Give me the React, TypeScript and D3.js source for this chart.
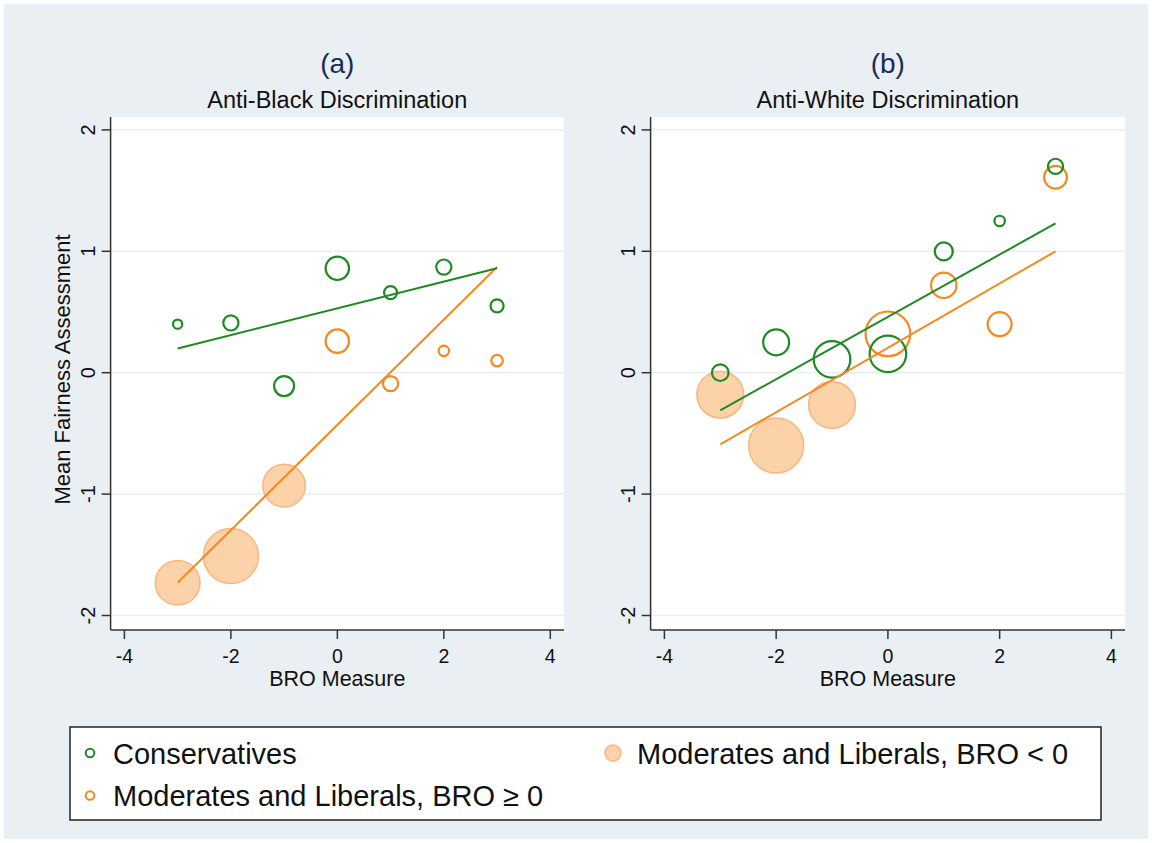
import React from "react";
import * as d3 from "d3";

// ---------- data ----------
const broAll = [-3, -2, -1, 0, 1, 2, 3];
const broPos = [0, 1, 2, 3];
const broNeg = [-3, -2, -1];
const xTicks = [-4, -2, 0, 2, 4];
const yTicks = [-2, -1, 0, 1, 2];

// Panel (a): Anti-Black Discrimination
const aConsY = [0.4, 0.41, -0.11, 0.86, 0.66, 0.87, 0.55];
const aConsN = [2.8, 7.6, 13.2, 18.1, 5.6, 7.6, 5.6];
const aPosY = [0.26, -0.09, 0.18, 0.1];
const aPosN = [18.1, 7.6, 3.6, 4.4];
const aNegY = [-1.73, -1.51, -0.93];
const aNegN = [66, 100, 60];
const aConsFit = [0.2, 0.86];
const aModFit = [-1.73, 0.87];

// Panel (b): Anti-White Discrimination
const bConsY = [0.0, 0.25, 0.11, 0.155, 1.0, 1.25, 1.7];
const bConsN = [9.1, 22.3, 44.3, 44.3, 10.7, 3.6, 7.6];
const bPosY = [0.32, 0.72, 0.4, 1.61];
const bPosN = [66, 21.3, 19, 17.2];
const bNegY = [-0.18, -0.6, -0.265];
const bNegN = [72.4, 100, 72.4];
const bConsFit = [-0.31, 1.23];
const bModFit = [-0.59, 1.0];
const fitX = [-3, 3];

const legendLabels = [
  "Conservatives",
  "Moderates and Liberals, BRO \u2265 0",
  "Moderates and Liberals, BRO < 0",
];

// ---------- style ----------
const GREEN = "#1f8a24";
const ORANGE = "#f3891f";
const PEACH = "#fcd2a9";
const PEACH_STROKE = "#f7b67f";
const BG = "#e9eff2";
const GRID = "#eaf0f2";
const FONT = "'Liberation Sans', Arial, Helvetica, sans-serif";

const rScale = d3.scaleSqrt().domain([0, 100]).range([0, 27.5]);

type PanelProps = {
  left: number;
  right: number;
  xr0: number;
  xr1: number;
  letter: string;
  title: string;
  consY: number[];
  consN: number[];
  posY: number[];
  posN: number[];
  negY: number[];
  negN: number[];
  consFit: number[];
  modFit: number[];
  showYTitle: boolean;
};

const TOP = 117;
const BOTTOM = 630;

function Panel(p: PanelProps) {
  const x = d3.scaleLinear().domain([-4, 4]).range([p.xr0, p.xr1]);
  const y = d3.scaleLinear().domain([-2, 2]).range([615.5, 129.9]);
  const line = d3
    .line<[number, number]>()
    .x((d) => x(d[0]))
    .y((d) => y(d[1]));
  const cx = (p.left + p.right) / 2;
  const consFitPts: [number, number][] = fitX.map((v, i) => [v, p.consFit[i]]);
  const modFitPts: [number, number][] = fitX.map((v, i) => [v, p.modFit[i]]);
  const fmt = (t: number) => d3.format("d")(t).replace("\u2212", "-");
  return (
    <g>
      <rect x={p.left} y={TOP} width={p.right - p.left} height={BOTTOM - TOP} fill="#ffffff" />
      {yTicks.map((t) => (
        <line key={"g" + t} x1={p.left} x2={p.right} y1={y(t)} y2={y(t)} stroke={GRID} strokeWidth={1.6} />
      ))}
      {/* filled: moderates BRO < 0 */}
      {broNeg.map((v, i) => (
        <circle key={"n" + i} cx={x(v)} cy={y(p.negY[i])} r={rScale(p.negN[i])} fill={PEACH} stroke={PEACH_STROKE} strokeWidth={1.5} />
      ))}
      {/* hollow: moderates BRO >= 0 */}
      {broPos.map((v, i) => (
        <circle key={"p" + i} cx={x(v)} cy={y(p.posY[i])} r={rScale(p.posN[i])} fill="none" stroke={ORANGE} strokeWidth={2.2} />
      ))}
      {/* hollow: conservatives */}
      {broAll.map((v, i) => (
        <circle key={"c" + i} cx={x(v)} cy={y(p.consY[i])} r={rScale(p.consN[i])} fill="none" stroke={GREEN} strokeWidth={2.2} />
      ))}
      <path d={line(modFitPts) || ""} fill="none" stroke={ORANGE} strokeWidth={2} />
      <path d={line(consFitPts) || ""} fill="none" stroke={GREEN} strokeWidth={2} />
      {/* axes */}
      <line x1={p.left} x2={p.left} y1={TOP} y2={BOTTOM} stroke="#333" strokeWidth={1.5} />
      <line x1={p.left} x2={p.right} y1={BOTTOM} y2={BOTTOM} stroke="#333" strokeWidth={1.5} />
      {yTicks.map((t) => (
        <g key={"yt" + t}>
          <line x1={p.left - 9} x2={p.left} y1={y(t)} y2={y(t)} stroke="#333" strokeWidth={1.5} />
          <text
            transform={`translate(${p.left - 15.5},${y(t)}) rotate(-90)`}
            textAnchor="middle"
            fontSize={20}
            fontFamily={FONT}
            fill="#111"
          >
            {fmt(t)}
          </text>
        </g>
      ))}
      {xTicks.map((t) => (
        <g key={"xt" + t}>
          <line x1={x(t)} x2={x(t)} y1={BOTTOM} y2={BOTTOM + 9} stroke="#333" strokeWidth={1.5} />
          <text x={x(t)} y={663} textAnchor="middle" fontSize={19.5} fontFamily={FONT} fill="#111">
            {fmt(t)}
          </text>
        </g>
      ))}
      <text x={cx} y={686} textAnchor="middle" fontSize={21.5} fontFamily={FONT} fill="#111">
        BRO Measure
      </text>
      {p.showYTitle && (
        <text
          transform={`translate(${p.left - 40.5},${(TOP + BOTTOM) / 2 - 4}) rotate(-90)`}
          textAnchor="middle"
          fontSize={22}
          fontFamily={FONT}
          fill="#111"
        >
          Mean Fairness Assessment
        </text>
      )}
      <text x={cx} y={73} textAnchor="middle" fontSize={28} fontFamily={FONT} fill="#1c2b57">
        {p.letter}
      </text>
      <text x={cx} y={108} textAnchor="middle" fontSize={23.5} fontFamily={FONT} fill="#111">
        {p.title}
      </text>
    </g>
  );
}

export default function App() {
  return (
    <svg
      width={1152}
      height={843}
      style={{ position: "absolute", left: 0, top: 0 }}
      xmlns="http://www.w3.org/2000/svg"
    >
      <rect x={0} y={0} width={1152} height={843} fill="#ffffff" />
      <rect x={4} y={4} width={1144} height={835} fill={BG} />
      <Panel
        left={110.6}
        right={564}
        xr0={124.4}
        xr1={550.3}
        letter="(a)"
        title="Anti-Black Discrimination"
        consY={aConsY}
        consN={aConsN}
        posY={aPosY}
        posN={aPosN}
        negY={aNegY}
        negN={aNegN}
        consFit={aConsFit}
        modFit={aModFit}
        showYTitle={true}
      />
      <Panel
        left={650.6}
        right={1125}
        xr0={664.4}
        xr1={1111.4}
        letter="(b)"
        title="Anti-White Discrimination"
        consY={bConsY}
        consN={bConsN}
        posY={bPosY}
        posN={bPosN}
        negY={bNegY}
        negN={bNegN}
        consFit={bConsFit}
        modFit={bModFit}
        showYTitle={false}
      />
      {/* legend */}
      <rect x={70} y={727} width={1031} height={93} fill="#ffffff" stroke="#222" strokeWidth={1.5} />
      <circle cx={90} cy={753} r={4.3} fill="none" stroke={GREEN} strokeWidth={2} />
      <text x={113} y={764} fontSize={29} fontFamily={FONT} fill="#111">
        {legendLabels[0]}
      </text>
      <circle cx={90} cy={795.5} r={4.3} fill="none" stroke={ORANGE} strokeWidth={2} />
      <text x={113} y={806} fontSize={29} fontFamily={FONT} fill="#111">
        {legendLabels[1]}
      </text>
      <circle cx={613} cy={753} r={8} fill={PEACH} stroke={PEACH_STROKE} strokeWidth={1.5} />
      <text x={637} y={764} fontSize={29} fontFamily={FONT} fill="#111">
        {legendLabels[2]}
      </text>
    </svg>
  );
}
